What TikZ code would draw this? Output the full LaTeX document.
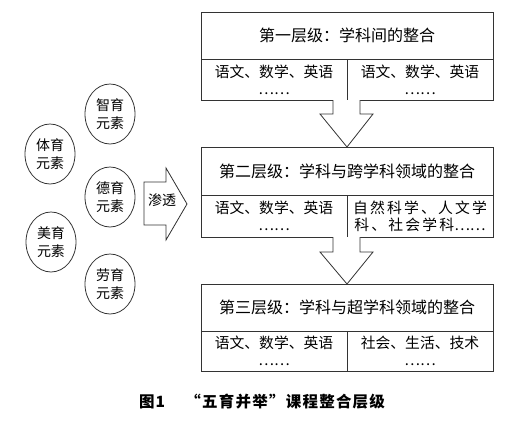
\documentclass[tikz,border=0pt]{standalone}
\usepackage{fontspec}
\setmainfont{Noto Sans CJK SC}
\usetikzlibrary{shapes.geometric}
\tikzset{
  ln/.style={draw=black!80, line width=0.8pt},
  elem/.style={ln, ellipse, minimum width=50pt, minimum height=60pt, inner sep=0pt, align=center, font=\fontsize{14}{18}\selectfont},
  title/.style={ln, rectangle, minimum width=292pt, inner sep=0pt, font=\fontsize{16}{18}\selectfont},
  cell/.style={ln, rectangle, minimum width=146pt, inner sep=0pt, align=center, font=\fontsize{14.8}{17}\selectfont},
  bigarrow/.style={ln, fill=white, line join=miter},
}
\begin{document}
\begin{tikzpicture}[x=1pt,y=-1pt]
\useasboundingbox (0,0) rectangle (512,432);
% elements
\node[elem] (zhi) at (110,114) {智育\\元素};
\node[elem] (ti) at (50,154) {体育\\元素};
\node[elem] (de) at (110,197) {德育\\元素};
\node[elem] (mei) at (51,242) {美育\\元素};
\node[elem] (lao) at (110,284) {劳育\\元素};
% penetrate arrow
\draw[bigarrow] (144,182) -- (166,182) -- (166,168) -- (187,204) -- (166,240) -- (166,225) -- (144,225) -- cycle;
\node[font=\fontsize{14}{16}\selectfont, inner sep=0pt] (st) at (162,200) {渗透};
% level 1
\node[title, minimum height=47pt] (t1) at (347,35.5) {第一层级：学科间的整合};
\node[cell, minimum height=41pt] (c1l) at (274,79.5) {语文、数学、英语\\……};
\node[cell, minimum height=41pt] (c1r) at (420,79.5) {语文、数学、英语\\……};
% arrow 1
\draw[bigarrow] (333,100) -- (333,114) -- (320,114) -- (347,147) -- (373,114) -- (360,114) -- (360,100);
% level 2
\node[title, minimum height=48pt] (t2) at (347,171) {第二层级：学科与跨学科领域的整合};
\node[cell, minimum height=42pt] (c2l) at (274,216) {语文、数学、英语\\……};
\node[cell, minimum height=42pt] (c2r) at (420,216) {{\addfontfeatures{LetterSpace=15}自然科学、人文学}\\{\addfontfeatures{LetterSpace=15}科、社会学科}……};
% arrow 2
\draw[bigarrow] (333,237) -- (333,252) -- (320,252) -- (347,284) -- (373,252) -- (360,252) -- (360,237);
% level 3
\node[title, minimum height=47pt] (t3) at (347,307.5) {第三层级：学科与超学科领域的整合};
\node[cell, minimum height=40pt] (c3l) at (274,351) {语文、数学、英语\\……};
\node[cell, minimum height=40pt] (c3r) at (420,351) {社会、生活、技术\\……};
% caption
\node[font=\fontsize{15.5}{16}\selectfont\bfseries\addfontfeatures{LetterSpace=8}, inner sep=0pt] (cap) at (262,402) {图1\hspace{1.3em}“五育并举”课程整合层级};
\end{tikzpicture}
\end{document}
